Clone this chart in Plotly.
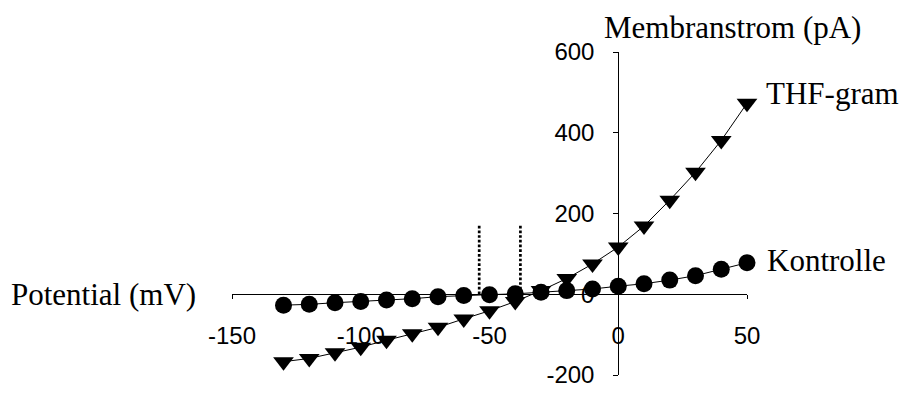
import plotly.graph_objects as go

# Data
voltage = [-130, -120, -110, -100, -90, -80, -70, -60, -50, -40, -30, -20, -10, 0, 10, 20, 30, 40, 50]
kontrolle = [-27, -25, -21, -18, -14, -11, -6, -3, -1, 1, 5, 9, 13, 20, 26, 35, 46, 62, 78]
thf_gram = [-167, -159, -145, -131, -114, -98, -82, -61, -41, -18, 9, 39, 75, 117, 169, 233, 302, 381, 473]
reversal_x = [-54, -38]
reversal_top = 173

x_ticks = [-150, -100, -50, 0, 50]
x_ticktext = ["-150", "-100", "-50", "0", "50"]
y_ticks = [-200, 0, 200, 400, 600]
y_ticktext = ["-200", "0", "200", "400", "600"]

fig = go.Figure()

for vx in reversal_x:
    fig.add_trace(go.Scatter(x=[vx, vx], y=[0, reversal_top], mode="lines",
                             line=dict(color="black", width=2.7, dash="2.7px,2px"),
                             hoverinfo="skip", showlegend=False))

fig.add_trace(go.Scatter(x=voltage, y=thf_gram, mode="lines+markers",
                         line=dict(color="black", width=1),
                         marker=dict(symbol="triangle-down", size=18, color="black"),
                         showlegend=False, cliponaxis=False))
fig.add_trace(go.Scatter(x=voltage, y=kontrolle, mode="lines+markers",
                         line=dict(color="black", width=1),
                         marker=dict(symbol="circle", size=17, color="black"),
                         showlegend=False, cliponaxis=False))

serif = "Liberation Serif, Times New Roman, serif"
sans = "Liberation Sans, Arial, sans-serif"

fig.update_layout(
    width=907, height=400,
    margin=dict(l=232, r=160, t=52, b=15),
    paper_bgcolor="white", plot_bgcolor="white",
    xaxis=dict(range=[-150, 50], anchor="free", position=0.25,
               showline=True, linecolor="black", linewidth=1,
               ticks="outside", ticklen=4, tickcolor="black",
               tickvals=x_ticks, ticktext=x_ticktext,
               tickfont=dict(family=sans, size=24, color="black"),
               ticklabelstandoff=16,
               showgrid=False, zeroline=False),
    yaxis=dict(range=[-200, 600], anchor="free", position=0.75,
               showline=True, linecolor="black", linewidth=1,
               ticks="outside", ticklen=5, tickcolor="black",
               tickvals=y_ticks, ticktext=y_ticktext,
               tickfont=dict(family=sans, size=24, color="black"),
               ticklabelstandoff=14,
               showgrid=False, zeroline=False),
    annotations=[
        dict(text="Membranstrom (pA)", x=0.9728, y=1.075, xref="paper", yref="paper",
             xanchor="center", yanchor="middle", showarrow=False,
             font=dict(family=serif, size=31, color="black")),
        dict(text="THF-gram", x=1.033, y=0.871, xref="paper", yref="paper",
             xanchor="left", yanchor="middle", showarrow=False,
             font=dict(family=serif, size=31, color="black")),
        dict(text="Kontrolle", x=1.035, y=0.354, xref="paper", yref="paper",
             xanchor="left", yanchor="middle", showarrow=False,
             font=dict(family=serif, size=31, color="black")),
        dict(text="Potential (mV)", x=-0.433, y=0.25, xref="paper", yref="paper",
             xanchor="left", yanchor="middle", showarrow=False,
             font=dict(family=serif, size=31, color="black")),
    ],
)

fig.write_html("out.html")
